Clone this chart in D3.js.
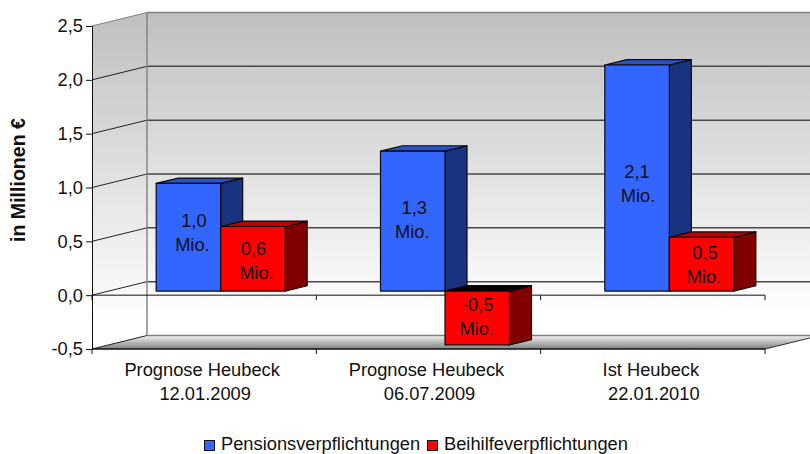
<!DOCTYPE html>
<html lang="de">
<head>
<meta charset="UTF-8">
<title>Pensions- und Beihilfeverpflichtungen</title>
<script src="https://d3js.org/d3.v7.min.js"></script>
<style>
    body { margin: 0; background: #fff; }
    svg { display: block; }
    text { font-family: "Liberation Sans", Arial, sans-serif; fill: #111; }
</style>
</head>
<body>
<svg width="810" height="454"></svg>
<script>
    const categories = [["Prognose Heubeck", "12.01.2009"], ["Prognose Heubeck", "06.07.2009"], ["Ist Heubeck", "22.01.2010"]];
    const seriesNames = ["Pensionsverpflichtungen", "Beihilfeverpflichtungen"];
    const pensionValues = [1.0, 1.3, 2.1];
    const beihilfeValues = [0.6, -0.5, 0.5];
    const pensionLabels = ["1,0", "1,3", "2,1"];
    const beihilfeLabels = ["0,6", "-0,5", "0,5"];
    const yTicks = [-0.5, 0, 0.5, 1, 1.5, 2, 2.5];

    const svg = d3.select("svg");
    const fmt = v => d3.format(".1f")(v).replace(".", ",").replace("−", "-");
    const fontSize = 18.3;

    const x = d3.scaleBand().domain(d3.range(3)).range([92, 765]);
    const xInner = d3.scaleBand().domain([0, 1]).range([0, x.bandwidth()]).paddingOuter(0.739).paddingInner(0);
    const y = d3.scaleLinear().domain([-0.5, 2.5]).range([349, 26]);
    // depth axis: 0 = front plane, 1 = back wall
    const depthX = d3.scaleLinear().domain([0, 1]).range([0, 55]);
    const depthY = d3.scaleLinear().domain([0, 1]).range([0, -13.5]);
    const pt = (px, v, z) => [px + depthX(z), y(v) + depthY(z)];
    const poly = pts => "M" + pts.map(p => p.join(",")).join("L") + "Z";

    const defs = svg.append("defs");
    const grad = (id, stops) => {
        const g = defs.append("linearGradient").attr("id", id)
            .attr("x1", 0).attr("y1", 0).attr("x2", 0).attr("y2", 1);
        stops.forEach(s => g.append("stop").attr("offset", s[0]).attr("stop-color", s[1]));
    };
    grad("wallGrad", [[0, "#bfbfbf"], [0.93, "#ffffff"], [1, "#ffffff"]]);
    grad("floorGrad", [[0, "#f4f4f4"], [1, "#808080"]]);

    const xL = x.range()[0], xR = x.range()[1];

    // walls
    svg.append("path").attr("fill", "url(#wallGrad)")
        .attr("d", poly([pt(xL, 2.5, 0), pt(xL, 2.5, 1), pt(xL, -0.5, 1), pt(xL, -0.5, 0)]));
    svg.append("path").attr("fill", "url(#wallGrad)")
        .attr("d", poly([pt(xL, 2.5, 1), pt(xR, 2.5, 1), pt(xR, -0.5, 1), pt(xL, -0.5, 1)]));
    svg.append("path").attr("fill", "url(#floorGrad)")
        .attr("d", poly([pt(xL, -0.5, 1), pt(xR, -0.5, 1), pt(xR, -0.5, 0), pt(xL, -0.5, 0)]));

    // grid lines on the walls
    yTicks.forEach(t => {
        const edge = t === 2.5 || t === -0.5;
        svg.append("path").attr("fill", "none")
            .attr("stroke", edge ? "#808080" : "#484848")
            .attr("stroke-width", edge ? 1.6 : 1.5)
            .attr("d", d3.line()([pt(xL, t, 1), pt(xR, t, 1)]));
        svg.append("path").attr("fill", "none")
            .attr("stroke", t === 2.5 ? "#808080" : "#222")
            .attr("stroke-width", 1)
            .attr("d", d3.line()([pt(xL, t, 0), pt(xL, t, 1)]));
    });
    svg.append("path").attr("fill", "none").attr("stroke", "#808080").attr("stroke-width", 1.4)
        .attr("d", d3.line()([pt(xL, 2.5, 1), pt(xL, -0.5, 1)]));
    svg.append("path").attr("fill", "none").attr("stroke", "#333").attr("stroke-width", 1)
        .attr("d", d3.line()([pt(xR, -0.5, 0), pt(xR, -0.5, 1)]));

    // axis at zero, ticks pointing down
    const catTicks = [0, 1, 2].map(i => x(i)).concat(xR);
    [0, -0.5].forEach(v => {
        svg.append("line").attr("x1", xL).attr("x2", xR).attr("y1", y(v)).attr("y2", y(v))
            .attr("stroke", "#111").attr("stroke-width", v === 0 ? 1 : 1.4);
        svg.selectAll(null).data(catTicks).enter().append("line")
            .attr("x1", d => d).attr("x2", d => d)
            .attr("y1", y(v)).attr("y2", y(v) + 5)
            .attr("stroke", "#111");
    });

    // value axis
    const yAxis = svg.append("g").attr("transform", `translate(${xL},0)`)
        .call(d3.axisLeft(y).tickValues(yTicks).tickFormat(fmt).tickSize(6).tickPadding(3));
    yAxis.select(".domain").attr("stroke", "#111");
    yAxis.selectAll("line").attr("stroke", "#111");
    yAxis.selectAll("text").attr("font-size", fontSize).attr("font-family", "Liberation Sans");

    // bars, far faces first
    const barDepth = [0.3, 0.7];
    const seriesData = [
        { values: pensionValues, labels: pensionLabels, front: "#3366ff", top: "#2a52c8", side: "#1a3380",
          nudge: [[5.5, 4, 1.5], [1.5, -0.5, 4.5], [0, 1, 12]] },
        { values: beihilfeValues, labels: beihilfeLabels, front: "#ff0000", top: "#c00000", side: "#800000",
          nudge: [[0.5, 3.5, 8.5], [0.5, -0.5, 4.5], [3.5, 2.5, 7]] }
    ];
    const barsLayer = svg.append("g");
    const labelsLayer = svg.append("g");

    seriesData.forEach((s, si) => {
        s.values.forEach((v, ci) => {
            const x0 = x(ci) + xInner(si), x1 = x0 + xInner.bandwidth();
            const hi = Math.max(v, 0), lo = Math.min(v, 0);
            const [z0, z1] = barDepth;
            const g = barsLayer.append("g").attr("stroke", "#0a0a0a").attr("stroke-width", 1.2).attr("stroke-linejoin", "round");
            g.append("path").attr("fill", s.side)
                .attr("d", poly([pt(x1, hi, z0), pt(x1, hi, z1), pt(x1, lo, z1), pt(x1, lo, z0)]));
            g.append("path").attr("fill", v < 0 ? "#000" : s.top)
                .attr("d", poly([pt(x0, hi, z0), pt(x0, hi, z1), pt(x1, hi, z1), pt(x1, hi, z0)]));
            g.append("path").attr("fill", s.front)
                .attr("d", poly([pt(x0, hi, z0), pt(x1, hi, z0), pt(x1, lo, z0), pt(x0, lo, z0)]));

            // value label in two lines, placed by hand like in the original
            const [dx1, dx2, dy] = s.nudge[ci];
            const cx = pt((x0 + x1) / 2, 0, z0)[0];
            const cy = y((hi + lo) / 2) + depthY(z0) + dy;
            const t = labelsLayer.append("text").attr("text-anchor", "middle").attr("font-size", fontSize);
            t.append("tspan").attr("x", cx + dx1).attr("y", cy - 12).text(s.labels[ci]);
            t.append("tspan").attr("x", cx + dx2).attr("y", cy + 12).text("Mio.");
        });
    });

    // category labels
    categories.forEach((c, i) => {
        const cx = x(i) + x.bandwidth() / 2;
        const t = svg.append("text").attr("text-anchor", "middle").attr("font-size", fontSize);
        t.append("tspan").attr("x", cx - 2).attr("y", 376).text(c[0]);
        t.append("tspan").attr("x", cx + 1).attr("y", 400).text(c[1]);
    });

    // axis title
    svg.append("text").attr("transform", "translate(25,180) rotate(-90)")
        .attr("text-anchor", "middle").attr("font-size", 19.5).attr("font-weight", "bold")
        .attr("textLength", 124).attr("lengthAdjust", "spacingAndGlyphs")
        .text("in Millionen €");

    // legend
    const legendX = [204, 427];
    const legendColors = ["#3366ff", "#ff0000"];
    seriesNames.forEach((n, i) => {
        svg.append("rect").attr("x", legendX[i] + 0.5).attr("y", 440.5).attr("width", 10).attr("height", 10)
            .attr("fill", legendColors[i]).attr("stroke", "#111");
        svg.append("text").attr("x", legendX[i] + 17).attr("y", 450).attr("font-size", fontSize).text(n);
    });
</script>
</body>
</html>
